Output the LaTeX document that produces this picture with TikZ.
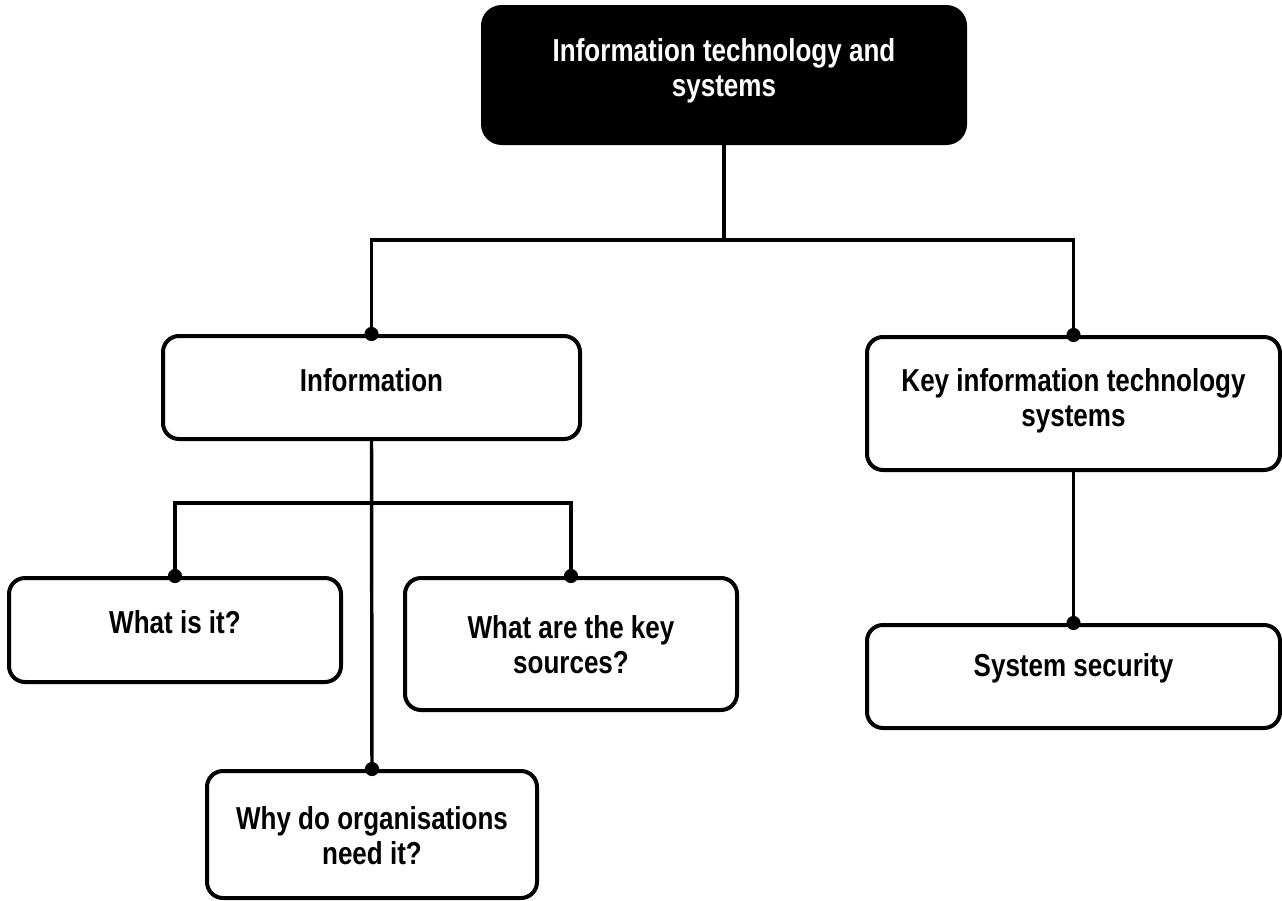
\documentclass[tikz,border=0pt]{standalone}
\usepackage{fontspec}
\newfontfamily\narrowsans[FakeStretch=0.82]{Liberation Sans}
\begin{document}
\begin{tikzpicture}[x=0.75pt,y=-0.75pt,
  box/.style={draw, line width=3pt, rounded corners=12pt, inner sep=0pt, fill=white},
  topbox/.style={box, fill=black, rounded corners=14pt},
  lbl/.style={align=center, inner sep=0pt, font=\narrowsans\bfseries\fontsize{23.8pt}{26.3pt}\selectfont},
  wire/.style={line width=2.6pt},
  joint/.style={fill=black}]
\useasboundingbox (0,0) rectangle (1282,900);

% boxes (centre, width x height in px)
\node[topbox, minimum width=361.5pt, minimum height=102pt] (top) at (724,75) {};
\node[box, minimum width=312.75pt, minimum height=77.25pt] (info) at (371.5,387.5) {};
\node[box, minimum width=309.75pt, minimum height=99.75pt] (key) at (1073.5,403.5) {};
\node[box, minimum width=309.75pt, minimum height=77.25pt] (sec) at (1073.5,676.5) {};
\node[box, minimum width=249pt, minimum height=78pt] (what) at (175,630) {};
\node[box, minimum width=249pt, minimum height=99pt] (sources) at (571,644) {};
\node[box, minimum width=247.5pt, minimum height=95.25pt] (why) at (372,834.5) {};

% labels
\node[lbl, text=white] (topT) at (724,71) {Information technology and\\systems};
\node[lbl] (infoT) at (371.5,380) {Information};
\node[lbl] (keyT) at (1073.5,401) {Key information technology\\systems};
\node[lbl] (secT) at (1073.5,668) {System security};
\node[lbl] (whatT) at (175,622) {What is it?};
\node[lbl] (sourcesT) at (571,645) {What are the key\\sources?};
\node[lbl] (whyT) at (372,836) {Why do organisations\\need it?};

% connectors
\coordinate (bus1) at (724,240);
\coordinate (bus2) at (372,503);
\draw[wire] (top.south) -- (bus1);
\draw[wire] (info.north) -- (info.north |- bus1) -- (key.north |- bus1) -- (key.north);
\draw[wire] (info.south) -- (why.north);
\draw[wire] (what.north) -- (what.north |- bus2) -- (sources.north |- bus2) -- (sources.north);
\draw[wire] (key.south) -- (sec.north);

% junction dots
\foreach \n in {info,key,what,sources,why,sec}
  \fill[joint] (\n.north) circle (5.3pt);
\end{tikzpicture}
\end{document}
